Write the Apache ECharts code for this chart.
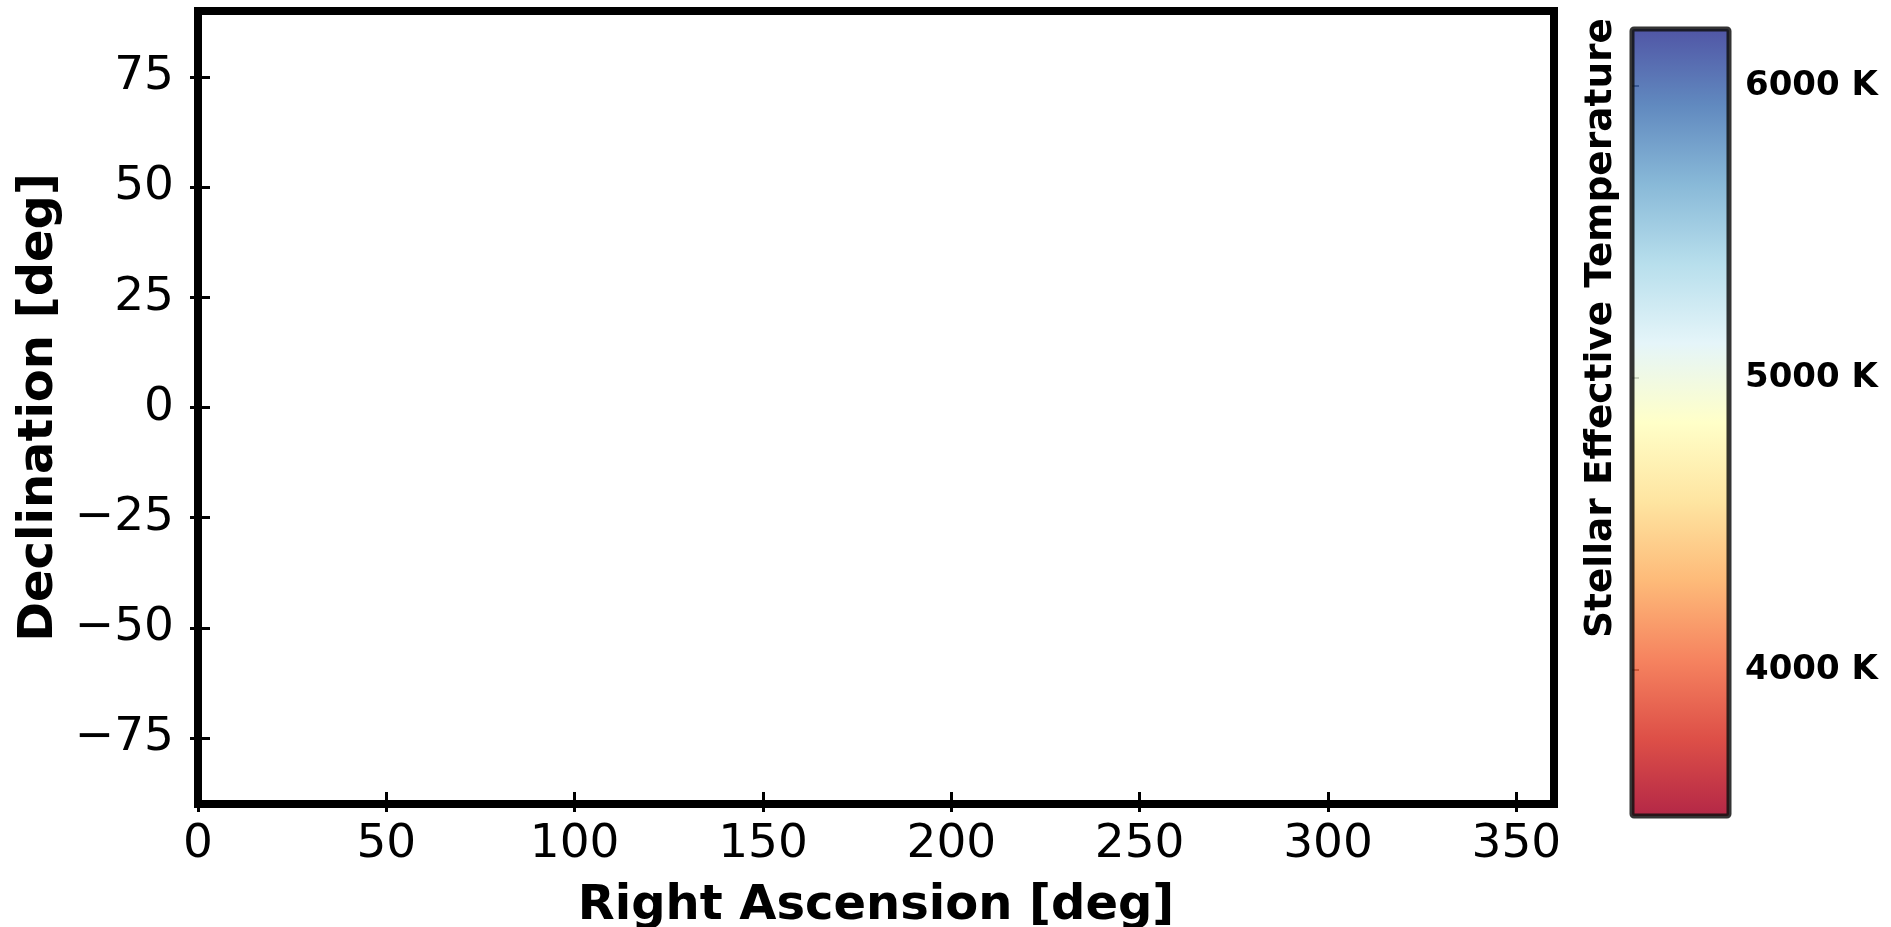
<!DOCTYPE html>
<html>
<head>
<meta charset="utf-8">
<title>Right Ascension vs Declination</title>
<script src="https://cdn.jsdelivr.net/npm/echarts@6/dist/echarts.min.js"></script>
<style>
  html, body { margin: 0; padding: 0; background: #fff; }
  #main { width: 1891px; height: 927px; }
</style>
</head>
<body>
<div id="main"></div>
<script>
// 星表数据（图中没有任何点）
var raData = [];
var decData = [];
var teffData = [];

// 坐标轴刻度
var raTicks = [0, 50, 100, 150, 200, 250, 300, 350];
var decTicks = [-75, -50, -25, 0, 25, 50, 75];
var teffTicks = [4000, 5000, 6000];

// 色标范围
var teffMin = 3500;
var teffMax = 6195;

// RdYlBu 色带，从上(蓝)到下(红)
var rdYlBu = ['#313695', '#4575b4', '#74add1', '#abd9e9', '#e0f3f8', '#ffffbf',
              '#fee090', '#fdae61', '#f46d43', '#d73027', '#a50026'];

var font = 'DejaVu Sans';
var minus = function (v) { return String(v).replace('-', '\u2212'); };

var points = raData.map(function (ra, i) { return [ra, decData[i], teffData[i]]; });

var chartDom = document.getElementById('main');
var myChart = echarts.init(chartDom);
var option;

option = {
  animation: false,
  backgroundColor: '#fff',
  grid: [
    // 主图
    {
      left: 198, right: 337, top: 11, bottom: 123, outerBoundsMode: 'none',
      show: true, borderColor: '#000', borderWidth: 8
    },
    // 色标
    { left: 1632, right: 162, top: 29, bottom: 111, outerBoundsMode: 'none', show: false }
  ],
  xAxis: [
    {
      gridIndex: 0, type: 'value', min: 0, max: 360,
      name: 'Right Ascension [deg]', nameLocation: 'middle', nameGap: 79,
      nameTextStyle: { fontFamily: font, fontWeight: 'bold', fontSize: 48, color: '#000' },
      axisLine: { show: true, onZero: false, lineStyle: { color: '#000', width: 8 } },
      axisTick: { show: true, length: 8, lineStyle: { color: '#000', width: 3 }, customValues: raTicks },
      axisLabel: { fontFamily: font, fontSize: 47, color: '#000', margin: 17, lineHeight: 47, customValues: raTicks },
      splitLine: { show: false }
    },
    {
      // 朝内的刻度线
      gridIndex: 0, type: 'value', min: 0, max: 360, position: 'bottom',
      axisLine: { show: false, onZero: false },
      axisTick: { show: true, inside: true, length: 12, lineStyle: { color: '#000', width: 3 }, customValues: raTicks },
      axisLabel: { show: false },
      splitLine: { show: false }
    },
    {
      gridIndex: 1, type: 'value', min: 0, max: 1, show: false
    }
  ],
  yAxis: [
    {
      gridIndex: 0, type: 'value', min: -90, max: 90,
      name: 'Declination [deg]', nameLocation: 'middle', nameGap: 130,
      nameTextStyle: { fontFamily: font, fontWeight: 'bold', fontSize: 48, color: '#000' },
      axisLine: { show: true, onZero: false, lineStyle: { color: '#000', width: 8 } },
      axisTick: { show: true, length: 8, lineStyle: { color: '#000', width: 3 }, customValues: decTicks },
      axisLabel: { fontFamily: font, fontSize: 47, color: '#000', margin: 24, formatter: minus, customValues: decTicks },
      splitLine: { show: false }
    },
    {
      gridIndex: 0, type: 'value', min: -90, max: 90, position: 'left',
      axisLine: { show: false, onZero: false },
      axisTick: { show: true, inside: true, length: 12, lineStyle: { color: '#000', width: 3 }, customValues: decTicks },
      axisLabel: { show: false },
      splitLine: { show: false }
    },
    {
      // 色标的温度轴
      gridIndex: 1, type: 'value', min: teffMin, max: teffMax, position: 'right',
      axisLine: { show: false },
      axisTick: { show: true, length: 7, lineStyle: { color: '#000', width: 2 }, customValues: teffTicks },
      axisLabel: {
        fontFamily: font, fontWeight: 'bold', fontSize: 34, color: '#000', margin: 16,
        formatter: function (v) { return v + ' K'; }, customValues: teffTicks
      },
      splitLine: { show: false }
    }
  ],
  graphic: [
    {
      type: 'text', x: 1601, y: 328, rotation: Math.PI / 2,
      style: {
        text: 'Stellar Effective Temperature', font: 'bold 37.5px "DejaVu Sans"',
        fill: '#000', align: 'center', verticalAlign: 'middle'
      }
    }
  ],
  series: [
    {
      name: 'stars', type: 'scatter', xAxisIndex: 0, yAxisIndex: 0,
      symbolSize: 10, data: points
    },
    {
      // 色标
      name: 'colorbar', type: 'custom', xAxisIndex: 2, yAxisIndex: 2,
      data: [[0, teffMin, teffMax]],
      renderItem: function (params, api) {
        var top = api.coord([0, api.value(2)]);
        var bottom = api.coord([1, api.value(1)]);
        var stops = rdYlBu.map(function (c, i) {
          return { offset: i / (rdYlBu.length - 1), color: c };
        });
        return {
          type: 'rect',
          shape: { x: top[0], y: top[1], width: bottom[0] - top[0], height: bottom[1] - top[1], r: 2 },
          style: {
            fill: new echarts.graphic.LinearGradient(0, 0, 0, 1, stops),
            opacity: 0.85,
            stroke: '#111', lineWidth: 5
          }
        };
      }
    }
  ]
};

option && myChart.setOption(option);
</script>
</body>
</html>
